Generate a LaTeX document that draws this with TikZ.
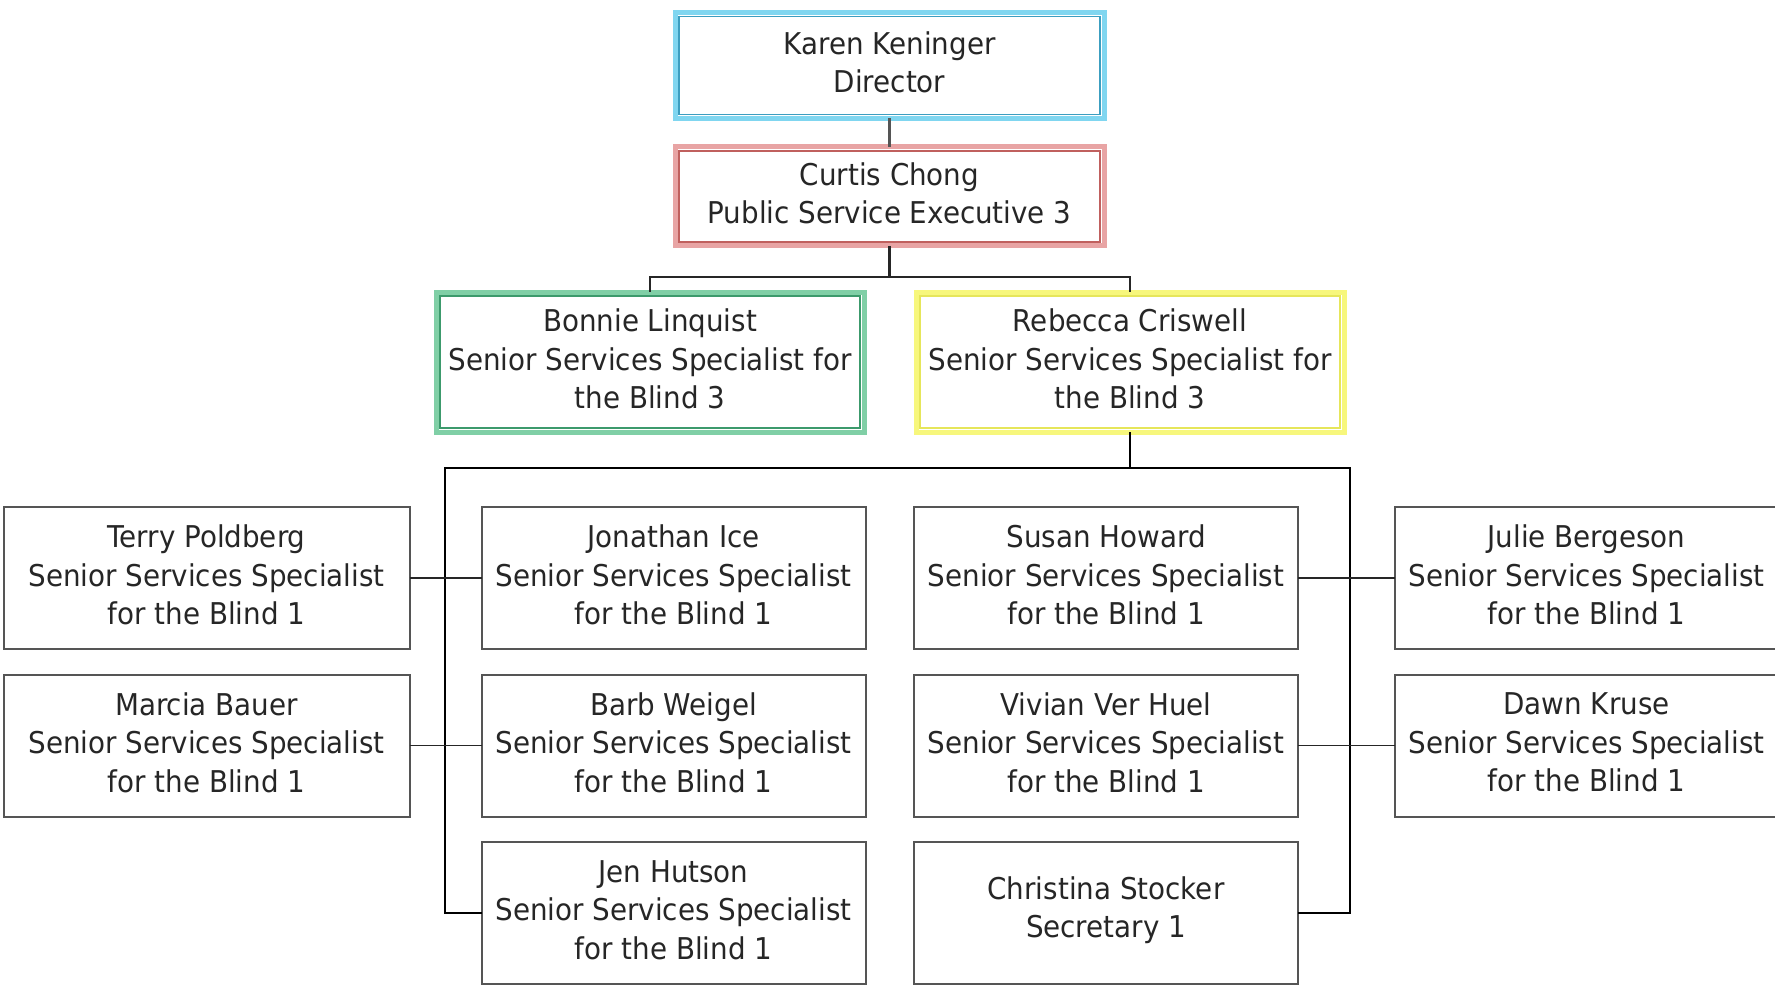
\documentclass[tikz,border=0pt]{standalone}
\usepackage{fontspec}
\setmainfont{DejaVu Sans}[FakeStretch=0.925]
\definecolor{txt}{HTML}{262626}
\definecolor{boxln}{HTML}{555555}
\definecolor{blueO}{HTML}{80D6F0}
\definecolor{blueI}{HTML}{3C9EC0}
\definecolor{redO}{HTML}{E8A4A4}
\definecolor{redI}{HTML}{C0605E}
\definecolor{greenO}{HTML}{80CFA6}
\definecolor{greenI}{HTML}{3C9A6C}
\definecolor{yelO}{HTML}{F7F77C}
\definecolor{yelI}{HTML}{E6E65A}
\begin{document}
\begin{tikzpicture}[x=1pt,y=-1pt,
  lbl/.style={align=center, inner sep=0pt, text=txt, font=\fontsize{30}{38.5}\selectfont, yshift=3pt},
  base/.style={rectangle, inner sep=0pt, outer sep=0pt, fill=white, label={[lbl]center:#1}},
  staff/.style={base={#1}, draw=boxln, line width=2pt, minimum width=384pt, minimum height=142pt},
  topbox/.style={base={#1}, line width=5pt, minimum width=429pt},
  inner/.style={line width=1.5pt},
  link/.style={draw=boxln, line width=2.2pt},
  tree/.style={draw=black, line width=2.8pt},
  side/.style={draw=txt, line width=1.8pt}]
\useasboundingbox (0,0) rectangle (1775,987);
\fill[white] (0,0) rectangle (1775,987);

% top boxes
\node[topbox={Karen Keninger\\Director}, draw=blueO, minimum height=106pt] (karen) at (889.5,65.5) {};
\node[topbox={Curtis Chong\\Public Service Executive 3}, draw=redO, minimum height=99pt] (curtis) at (889.5,196.5) {};
\node[topbox={Bonnie Linquist\\Senior Services Specialist for\\the Blind 3}, draw=greenO, minimum width=428pt, minimum height=140pt] (bonnie) at (650,362) {};
\node[topbox={Rebecca Criswell\\Senior Services Specialist for\\the Blind 3}, draw=yelO, minimum width=428pt, minimum height=140pt] (rebecca) at (1130,362) {};

\draw[inner, blueI] ([shift={(4pt,-4pt)}]karen.north west) rectangle ([shift={(-4pt,4pt)}]karen.south east);
\draw[inner, redI] ([shift={(4pt,-4pt)}]curtis.north west) rectangle ([shift={(-4pt,4pt)}]curtis.south east);
\draw[inner, greenI] ([shift={(4pt,-4pt)}]bonnie.north west) rectangle ([shift={(-4pt,4pt)}]bonnie.south east);
\draw[inner, yelI] ([shift={(4pt,-4pt)}]rebecca.north west) rectangle ([shift={(-4pt,4pt)}]rebecca.south east);

% staff boxes
\node[staff={Terry Poldberg\\Senior Services Specialist\\for the Blind 1}, minimum width=406pt] (terry) at (206.5,578) {};
\node[staff={Marcia Bauer\\Senior Services Specialist\\for the Blind 1}, minimum width=406pt] (marcia) at (206.5,745.5) {};
\node[staff={Jonathan Ice\\Senior Services Specialist\\for the Blind 1}] (jonathan) at (673.5,578) {};
\node[staff={Barb Weigel\\Senior Services Specialist\\for the Blind 1}] (barb) at (673.5,745.5) {};
\node[staff={Jen Hutson\\Senior Services Specialist\\for the Blind 1}] (jen) at (673.5,913) {};
\node[staff={Susan Howard\\Senior Services Specialist\\for the Blind 1}] (susan) at (1106,578) {};
\node[staff={Vivian Ver Huel\\Senior Services Specialist\\for the Blind 1}] (vivian) at (1106,745.5) {};
\node[staff={Christina Stocker\\Secretary 1}] (christina) at (1106,913) {};
\node[staff={Julie Bergeson\\Senior Services Specialist\\for the Blind 1}] (julie) at (1586.5,578) {};
\node[staff={Dawn Kruse\\Senior Services Specialist\\for the Blind 1}] (dawn) at (1586.5,745.5) {};

% connectors
\coordinate (j1) at (889.5,277);
\coordinate (bl) at (445,468);
\coordinate (br) at (1350,468);
\draw[link] (karen.south) -- (curtis.north);
\draw[link, draw=txt] (curtis.south) -- (j1) -| (bonnie.north);
\draw[link, draw=txt] (j1) -| (rebecca.north);
\draw[tree] (rebecca.south) -- (rebecca.south |- bl);
\draw[tree, line cap=rect] (bl) -- (br);
\draw[tree, line width=2.4pt] (bl) |- (jen.west);
\draw[tree, line width=2.4pt] (br) |- (christina.east);
\draw[side] (terry.east) -- (jonathan.west);
\draw[side] (marcia.east) -- (barb.west);
\draw[side] (susan.east) -- (julie.west);
\draw[side] (vivian.east) -- (dawn.west);
\end{tikzpicture}
\end{document}
